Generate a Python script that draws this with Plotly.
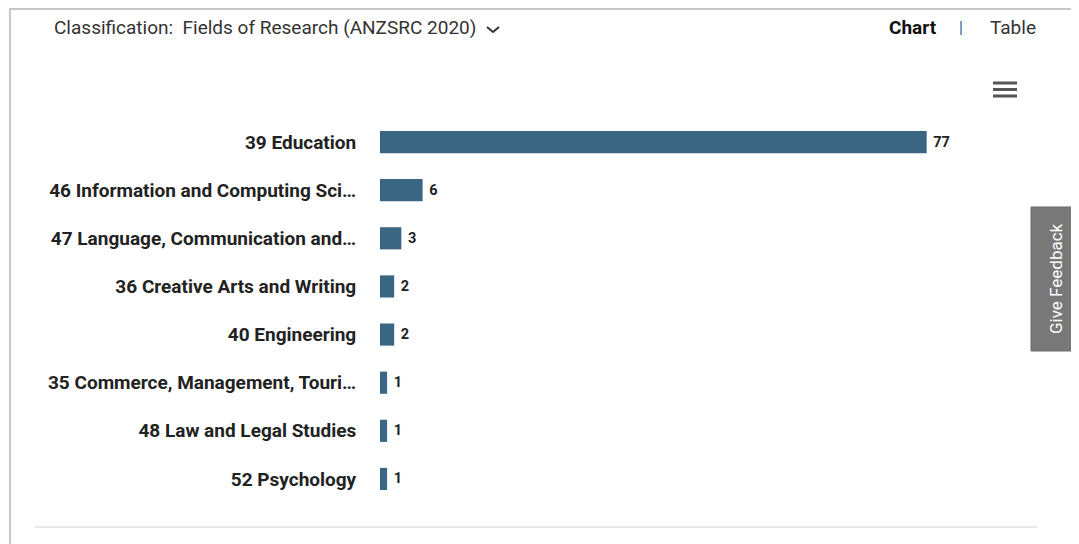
import plotly.graph_objects as go

categories = [
    "39 Education",
    "46 Information and Computing Sci…",
    "47 Language, Communication and…",
    "36 Creative Arts and Writing",
    "40 Engineering",
    "35 Commerce, Management, Touri…",
    "48 Law and Legal Studies",
    "52 Psychology",
]
values = [77, 6, 3, 2, 2, 1, 1, 1]

O = 8  # page body margin offset
W, H = 1079 - O, 544 - O
L, R, T, B = 380 - O, 60, 118 - O, 41
PW, PH = W - L - R, H - T - B

def px(x):
    return (x - O - L) / PW

def py(y):
    return (H - B - (y - O)) / PH

fig = go.Figure(go.Bar(
    x=values, y=categories, orientation="h",
    marker=dict(color="#3b6683", line=dict(width=0)),
    width=0.46,
    text=["\u00a0" + str(v) for v in values], textposition="outside",
    textfont=dict(family="Roboto", size=14.5, color="#222222", weight="bold"),
    cliponaxis=False,
))

fig.update_layout(
    width=W, height=H,
    margin=dict(l=L, r=R, t=T, b=B),
    paper_bgcolor="white", plot_bgcolor="white",
    showlegend=False,
    bargap=0.5,
    xaxis=dict(range=[0, 90], visible=False, showgrid=False, zeroline=False),
    yaxis=dict(autorange="reversed", showgrid=False, zeroline=False, showline=False,
               ticks="outside", ticklen=19, tickcolor="rgba(0,0,0,0)",
               tickfont=dict(family="Roboto", size=19, color="#222222", weight="bold")),
    font=dict(family="Roboto"),
)

shapes = []
# page borders
shapes.append(dict(type="line", xref="paper", yref="paper", x0=px(10), x1=px(1085), y0=py(9), y1=py(9),
                   line=dict(color="#c8c8c8", width=2)))
shapes.append(dict(type="line", xref="paper", yref="paper", x0=px(10), x1=px(10), y0=py(8), y1=py(550),
                   line=dict(color="#c8c8c8", width=2)))
# bottom separator
shapes.append(dict(type="line", xref="paper", yref="paper", x0=px(35), x1=px(1037), y0=py(527), y1=py(527),
                   line=dict(color="#e8e8e8", width=2)))
# chevron
shapes.append(dict(type="path", xref="paper", yref="paper",
                   path=f"M {px(487)} {py(27)} L {px(493)} {py(32)} L {px(499)} {py(27)}",
                   line=dict(color="#333333", width=2)))
# hamburger
for yy in [83, 89.5, 96]:
    shapes.append(dict(type="line", xref="paper", yref="paper", x0=px(993), x1=px(1017), y0=py(yy), y1=py(yy),
                       line=dict(color="#555555", width=3)))
# feedback tab
shapes.append(dict(type="rect", xref="paper", yref="paper", x0=px(1031), x1=px(1090), y0=py(207), y1=py(351),
                   fillcolor="#787878", line=dict(color="#6a6a6a", width=1)))
fig.update_layout(shapes=shapes)

ann = [
    dict(text="Classification:  Fields of Research (ANZSRC 2020)", x=px(52), y=py(28), xanchor="left", yanchor="middle",
         font=dict(family="Roboto", size=19, color="#333333")),
    dict(text="<b>Chart</b>", x=px(887), y=py(27), xanchor="left", yanchor="middle",
         font=dict(family="Roboto", size=19, color="#111111")),
    dict(text="|", x=px(961), y=py(28), xanchor="center", yanchor="middle",
         font=dict(family="Roboto", size=16, color="#2f5f8a")),
    dict(text="Table", x=px(988), y=py(27), xanchor="left", yanchor="middle",
         font=dict(family="Roboto", size=19, color="#333333")),
    dict(text="Give Feedback", x=px(1056), y=py(279), xanchor="center", yanchor="middle", textangle=-90,
         font=dict(family="Roboto", size=17, color="white")),
]
for a in ann:
    a.update(xref="paper", yref="paper", showarrow=False)
fig.update_layout(annotations=ann)

fig.write_html("out.html")
